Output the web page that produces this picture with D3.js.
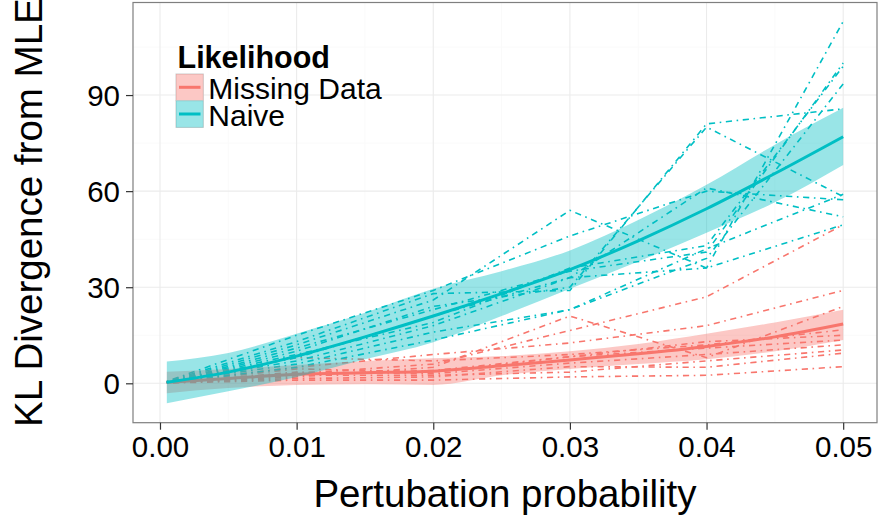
<!DOCTYPE html>
<html>
<head>
<meta charset="utf-8">
<script src="https://cdn.jsdelivr.net/npm/d3@7"></script>
<style>
body { margin:0; background:#fff; }
text { font-family: "Liberation Sans", Arial, Helvetica, sans-serif; }
</style>
</head>
<body>
<div id="chart"></div>
<script>

// perturbation levels at which each replicate was run
var probs = [0.0005, 0.01, 0.02, 0.03, 0.04, 0.05];

// replicate runs, Naive likelihood
var naiveRuns = [
	[0.3, 12, 26, 54, 36, 49.5],
	[0.5, 13, 28, 29, 81, 85.7],
	[0.2, 10, 24, 30, 80, 58.3],
	[0.4, 8, 21, 33, 36, 113],
	[0.1, 11, 23, 35, 41, 100],
	[0.3, 9, 19, 36, 43, 99],
	[0.6, 15, 29, 46, 60, 57.3],
	[0.2, 7, 18, 33, 61, 52],
	[0.4, 6, 16, 23, 39, 93.5],
	[0.1, 5, 13.5, 23, 42, 59]
];

// replicate runs, Missing Data likelihood
var missingRuns = [
	[0.2, 3, 6, 16.5, 27, 49.5],
	[0.4, 5, 9, 12.6, 18, 29],
	[0.2, 2, 5, 21, 8, 24],
	[0.3, 8, 7, 9, 12, 16.7],
	[0.1, 4.5, 3.5, 8.3, 11, 13.5],
	[0.2, 3.5, 3, 6.3, 9, 12],
	[0.3, 2.5, 2.5, 3.5, 7, 10.4],
	[0.2, 1.5, 2, 5.2, 5, 9.4],
	[0.1, 1, 1, 2, 2.5, 5.2],
	[0.3, 3, 4, 8.3, 13, 15]
];

// loess fit + band
var smoothX = [0.0005, 0.005, 0.01, 0.015, 0.02, 0.025, 0.03, 0.035, 0.04, 0.045, 0.05];
var naiveFit = [0.3, 3.5, 8.5, 14.5, 21, 28, 35.5, 44.5, 54.5, 65.5, 77];
var naiveLo  = [-6.2, -2.5, 2, 7.5, 12.8, 21, 29.5, 38, 47, 56.5, 68.2];
var naiveHi  = [6.8, 9.5, 15.5, 22, 29.5, 35, 41.5, 51, 62, 74.5, 86];
var missFit = [0.3, 1.5, 2.8, 3.3, 3.8, 5.5, 7.3, 9.2, 11.5, 14.5, 18.5];
var missLo  = [-3.1, -1.5, -0.5, -0.3, -0.5, 2.5, 4.5, 6, 7.5, 10, 13.5];
var missHi  = [3.6, 4.5, 5.7, 7, 7.8, 8.5, 10, 12.3, 15.5, 19, 23];

var xTicks = [0, 0.01, 0.02, 0.03, 0.04, 0.05];
var xMinor = [0.005, 0.015, 0.025, 0.035, 0.045];
var yTicks = [0, 30, 60, 90];
var yMinor = [-15, 15, 45, 75, 105];

var groups = ["Missing Data", "Naive"];
var colors = {"Missing Data":"#F8766D", "Naive":"#00BFC4"};

var W = 878, H = 521;
var pl = 133, pr = 877, pt = 2.5, pb = 422.7;

var svg = d3.select("#chart").append("svg")
		.attr("width", W)
		.attr("height", H);

var x = d3.scaleLinear().domain([-0.001975, 0.052475]).range([pl, pr]);
var y = d3.scaleLinear().domain([-12.3, 118.9]).range([pb, pt]);

svg.append("defs").append("clipPath").attr("id","clip")
	.append("rect").attr("x",pl).attr("y",pt).attr("width",pr-pl).attr("height",pb-pt);

// grid
var grid = svg.append("g");
grid.selectAll("line.xmin").data(xMinor).enter().append("line")
	.attr("x1", d => x(d)).attr("x2", d => x(d)).attr("y1", pt).attr("y2", pb)
	.style("stroke","#FAFAFA").style("stroke-width",1);
grid.selectAll("line.ymin").data(yMinor.filter(d => y(d) > pt && y(d) < pb)).enter().append("line")
	.attr("y1", d => y(d)).attr("y2", d => y(d)).attr("x1", pl).attr("x2", pr)
	.style("stroke","#FAFAFA").style("stroke-width",1);
grid.selectAll("line.xmaj").data(xTicks).enter().append("line")
	.attr("x1", d => x(d)).attr("x2", d => x(d)).attr("y1", pt).attr("y2", pb)
	.style("stroke","#EBEBEB").style("stroke-width",1.1);
grid.selectAll("line.ymaj").data(yTicks).enter().append("line")
	.attr("y1", d => y(d)).attr("y2", d => y(d)).attr("x1", pl).attr("x2", pr)
	.style("stroke","#EBEBEB").style("stroke-width",1.1);

var plot = svg.append("g").attr("clip-path","url(#clip)");

var line = d3.line().x((d,i) => x(probs[i])).y(d => y(d));

function drawRuns(runs, col){
	plot.append("g").selectAll("path").data(runs).enter().append("path")
		.attr("d", line)
		.style("fill","none")
		.style("stroke", col)
		.style("stroke-width", 1.6)
		.style("stroke-dasharray", "1.6,4.6,6.2,4.6");
}
drawRuns(missingRuns, colors["Missing Data"]);
drawRuns(naiveRuns, colors["Naive"]);

function drawSmooth(fit, lo, hi, col){
	var band = d3.area()
		.x((d,i) => x(smoothX[i]))
		.y0((d,i) => y(lo[i]))
		.y1((d,i) => y(hi[i]))
		.curve(d3.curveMonotoneX);
	plot.append("path").datum(fit)
		.attr("d", band)
		.style("fill", col)
		.style("fill-opacity", 0.4);
	var sl = d3.line().x((d,i) => x(smoothX[i])).y(d => y(d)).curve(d3.curveMonotoneX);
	plot.append("path").datum(fit)
		.attr("d", sl)
		.style("fill","none")
		.style("stroke", col)
		.style("stroke-width", 3);
}
drawSmooth(missFit, missLo, missHi, colors["Missing Data"]);
drawSmooth(naiveFit, naiveLo, naiveHi, colors["Naive"]);

// panel border
svg.append("rect")
	.attr("x", pl).attr("y", pt).attr("width", pr-pl).attr("height", pb-pt)
	.style("fill","none").style("stroke","#7F7F7F").style("stroke-width",1.2);

// axes
var xAxis = svg.append("g").attr("transform","translate(0,"+pb+")")
	.call(d3.axisBottom(x).tickValues(xTicks).tickFormat(d3.format(".2f")).tickSize(7).tickSizeOuter(0).tickPadding(5));
var yAxis = svg.append("g").attr("transform","translate("+pl+",0)")
	.call(d3.axisLeft(y).tickValues(yTicks).tickSize(7).tickSizeOuter(0).tickPadding(6));
[xAxis, yAxis].forEach(function(a){
	a.select(".domain").remove();
	a.selectAll(".tick line").style("stroke","#333").style("stroke-width",1.2);
	a.selectAll(".tick text").style("font-size","29.5px").style("fill","#000")
		.style("font-family","'Liberation Sans', Arial, sans-serif");
});
xAxis.selectAll(".tick text").attr("dy", null).attr("y", 34);
yAxis.selectAll(".tick text").attr("dy", "0.36em");

svg.append("text")
	.attr("x", (pl+pr)/2).attr("y", 507.3)
	.attr("text-anchor","middle")
	.style("font-size","38.5px")
	.text("Pertubation probability");

svg.append("text")
	.attr("transform","translate(41.5,"+((pt+pb)/2)+") rotate(-90)")
	.attr("text-anchor","middle")
	.style("font-size","38.5px")
	.text("KL Divergence from MLE");

// legend
var leg = svg.append("g");
leg.append("text").attr("x",177.5).attr("y",68.3)
	.style("font-size","30.5px").style("font-weight","bold")
	.text("Likelihood");
var keys = leg.selectAll("g.key").data(groups).enter().append("g")
	.attr("transform", (d,i) => "translate(176," + (74 + i*26.7) + ")");
keys.append("rect").attr("width",27.3).attr("height",26.7)
	.style("fill","#fff").style("stroke","#CCCCCC").style("stroke-width",1);
keys.append("rect").attr("width",27.3).attr("height",26.7)
	.style("fill", d => colors[d]).style("fill-opacity",0.4);
keys.append("line").attr("x1",3).attr("x2",24.5).attr("y1",13.3).attr("y2",13.3)
	.style("stroke", d => colors[d]).style("stroke-width",3);
keys.append("text").attr("x",32.3).attr("y",25)
	.style("font-size","30px")
	.text(d => d);

</script>
</body>
</html>
